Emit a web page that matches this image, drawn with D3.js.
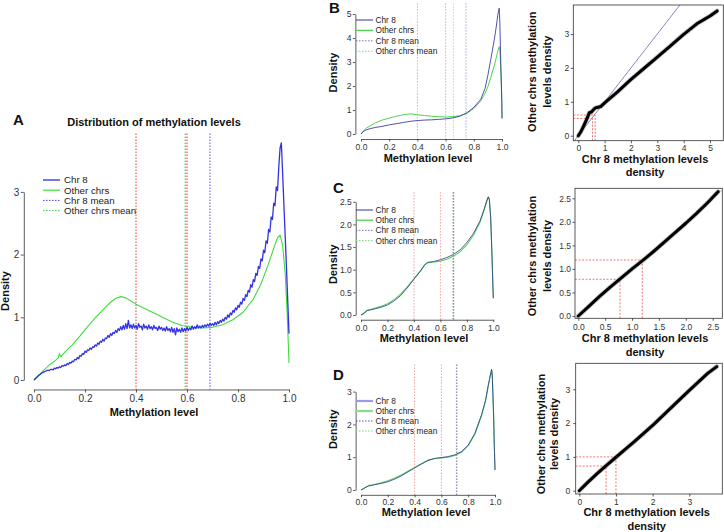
<!DOCTYPE html>
<html><head><meta charset="utf-8">
<script src="https://cdn.jsdelivr.net/npm/d3@7/dist/d3.min.js"></script>
<style>body{margin:0;background:#fff}svg{display:block}text{font-family:"Liberation Sans",Arial,Helvetica,sans-serif}</style>
</head><body><svg id="c" width="724" height="532"></svg>
<script>
// ---------------- DATA ----------------
const methylTicks = [0, 0.2, 0.4, 0.6, 0.8, 1.0];
const thresholds = [0.4, 0.6];
const legendLabels = ["Chr 8", "Other chrs", "Chr 8 mean", "Other chrs mean"];

// Panel A
const chr8StepA = 0.005;
const chr8DensityA = [
 0.00,0.02,0.04,0.06,0.08,0.09,0.11,0.12,0.13,0.14,
 0.15,0.16,0.15,0.17,0.17,0.16,0.19,0.18,0.20,0.19,
 0.21,0.20,0.23,0.22,0.24,0.23,0.26,0.25,0.28,0.27,
 0.30,0.29,0.33,0.32,0.36,0.34,0.39,0.38,0.42,0.41,
 0.46,0.44,0.48,0.47,0.51,0.49,0.53,0.52,0.56,0.54,
 0.59,0.57,0.62,0.60,0.65,0.62,0.67,0.66,0.71,0.68,
 0.74,0.71,0.76,0.74,0.79,0.76,0.82,0.79,0.85,0.80,
 0.87,0.81,0.90,0.82,0.95,0.83,0.88,0.82,0.89,0.83,
 0.87,0.81,0.90,0.84,0.86,0.80,0.89,0.83,0.86,0.81,
 0.88,0.82,0.85,0.80,0.87,0.82,0.84,0.79,0.86,0.81,
 0.84,0.79,0.83,0.78,0.85,0.79,0.82,0.77,0.84,0.76,
 0.82,0.72,0.83,0.77,0.81,0.76,0.83,0.77,0.82,0.78,
 0.84,0.79,0.83,0.80,0.86,0.81,0.85,0.82,0.88,0.83,
 0.86,0.83,0.87,0.84,0.88,0.85,0.89,0.86,0.90,0.87,
 0.90,0.87,0.92,0.88,0.93,0.90,0.95,0.92,0.97,0.94,
 1.00,0.97,1.04,1.00,1.07,1.04,1.11,1.08,1.15,1.12,
 1.19,1.16,1.24,1.21,1.30,1.27,1.36,1.33,1.43,1.40,
 1.52,1.48,1.60,1.57,1.70,1.67,1.81,1.78,1.93,1.90,
 2.07,2.03,2.22,2.18,2.40,2.36,2.60,2.56,2.82,2.78,
 3.08,3.02,3.40,3.70,3.78,3.30,2.80,2.30,1.80,1.27,
 0.74];
const otherXA = [0,0.02,0.04,0.06,0.08,0.095,0.1,0.105,0.12,0.15,0.18,0.21,0.24,0.27,0.3,0.32,0.34,0.36,0.38,0.4,0.43,0.46,0.5,0.54,0.58,0.62,0.66,0.7,0.74,0.78,0.82,0.86,0.89,0.92,0.94,0.955,0.965,0.975,0.985,0.993,1.0];
const otherDensityA = [0,0.08,0.16,0.24,0.30,0.35,0.42,0.37,0.44,0.56,0.70,0.85,0.99,1.12,1.24,1.30,1.33,1.31,1.26,1.21,1.15,1.09,1.01,0.93,0.87,0.84,0.83,0.84,0.88,0.96,1.08,1.29,1.53,1.86,2.10,2.27,2.31,2.15,1.70,1.05,0.27];
const meansA = [0.69, 0.593];   // chr8, other
const yTicksA = [0, 1, 2, 3];

// Panel B
const xB = [0,0.02,0.04,0.07,0.1,0.15,0.2,0.25,0.3,0.35,0.4,0.45,0.5,0.55,0.6,0.65,0.7,0.75,0.8,0.85,0.88,0.9,0.92,0.94,0.95,0.96,0.97,0.98,0.985,0.99,0.995,0.999,1.0];
const chr8DensityB = [0,0.12,0.18,0.23,0.27,0.32,0.38,0.43,0.48,0.53,0.56,0.58,0.59,0.61,0.63,0.67,0.74,0.88,1.11,1.45,1.9,2.45,3.1,3.75,4.1,4.5,4.95,5.24,4.6,3.3,2.2,1.3,0.65];
const otherDensityB = [0,0.15,0.25,0.36,0.46,0.58,0.66,0.74,0.8,0.84,0.8,0.77,0.74,0.72,0.71,0.72,0.76,0.86,1.06,1.38,1.7,1.98,2.35,2.75,2.95,3.2,3.45,3.64,3.5,2.9,2.1,1.3,0.65];
const meansB = [0.745, 0.655];
const yTicksB = [0, 1, 2, 3, 4, 5];
const qqXB = [0,0.1,0.2,0.3,0.38,0.42,0.5,0.58,0.65,0.75,0.85,1.0,1.2,1.5,2.0,2.5,3.0,3.5,4.0,4.5,5.0,5.27];
const qqYB = [0,0.12,0.28,0.45,0.6,0.68,0.7,0.77,0.82,0.84,0.86,0.97,1.1,1.3,1.66,1.99,2.32,2.65,2.99,3.3,3.53,3.68];
const qqRefB = [[0.54,0.51],[0.64,0.61]];
const qqTicksB_x = [0,1,2,3,4,5], qqTicksB_y = [0,1,2,3];

// Panel C
const xC = [0,0.02,0.04,0.05,0.07,0.1,0.15,0.2,0.25,0.3,0.35,0.4,0.45,0.48,0.5,0.55,0.6,0.65,0.7,0.75,0.8,0.85,0.9,0.93,0.95,0.962,0.97,0.98,0.99,1.0];
const chr8DensityC = [0,0.03,0.08,0.10,0.11,0.13,0.17,0.22,0.31,0.43,0.6,0.79,0.97,1.1,1.16,1.18,1.22,1.27,1.34,1.44,1.6,1.8,2.08,2.33,2.52,2.61,2.55,2.15,1.3,0.37];
const otherDensityC = [0,0.04,0.09,0.11,0.12,0.15,0.19,0.25,0.34,0.46,0.62,0.8,0.98,1.1,1.15,1.17,1.19,1.23,1.3,1.4,1.55,1.76,2.05,2.31,2.5,2.6,2.56,2.18,1.35,0.37];
const meansC = [0.697, 0.701];
const yTicksC = [0, 0.5, 1.0, 1.5, 2.0, 2.5];
const qqXC = [0,0.2,0.4,0.6,0.8,1.0,1.2,1.4,1.6,1.8,2.0,2.2,2.4,2.6];
const qqYC = [0,0.21,0.42,0.62,0.81,1.0,1.18,1.37,1.57,1.77,1.97,2.18,2.4,2.64];
const qqRefC = [[0.776,0.78],[1.19,1.19]];
const qqTicksC = [0, 0.5, 1.0, 1.5, 2.0, 2.5];

// Panel D
const xD = [0,0.02,0.04,0.06,0.08,0.1,0.15,0.2,0.25,0.3,0.35,0.4,0.45,0.5,0.55,0.6,0.65,0.7,0.75,0.8,0.85,0.9,0.93,0.95,0.965,0.975,0.98,0.99,0.995,1.0];
const chr8DensityD = [0,0.04,0.09,0.13,0.14,0.16,0.2,0.25,0.33,0.43,0.55,0.67,0.79,0.9,0.96,0.99,1.02,1.07,1.17,1.37,1.73,2.3,2.75,3.2,3.5,3.68,3.45,2.2,1.3,0.61];
const otherDensityD = [0,0.05,0.1,0.14,0.15,0.17,0.22,0.28,0.36,0.46,0.57,0.69,0.8,0.91,0.96,0.98,1.0,1.05,1.15,1.35,1.7,2.27,2.72,3.18,3.49,3.66,3.45,2.25,1.35,0.61];
const meansD = [0.712, 0.718];
const yTicksD = [0, 1, 2, 3];
const qqXD = [0,0.25,0.5,0.75,1.0,1.25,1.5,2.0,2.5,3.0,3.5,3.75];
const qqYD = [0,0.27,0.52,0.76,0.99,1.22,1.45,1.93,2.45,2.97,3.47,3.67];
const qqRefD = [[0.73,0.73],[1.0,1.0]];
const qqTicksD = [0, 1, 2, 3];

// ---------------- DRAWING ----------------
const svg = d3.select("#c");
const FONT = '"Liberation Sans",Arial,Helvetica,sans-serif';

function styleAxis(sel, fs, keepDomain) {
  sel.attr("font-family", null).attr("font-size", null);
  sel.selectAll("path.domain").attr("stroke", "#333").attr("stroke-width", 0.8);
  if (!keepDomain) sel.selectAll("path.domain").remove();
  sel.selectAll(".tick line").attr("stroke", "#333").attr("stroke-width", 0.8);
  sel.selectAll(".tick text").attr("fill", "#333").style("font-size", fs + "px").style("font-family", FONT);
}

function txt(x, y, s, o) {
  o = o || {};
  const t = svg.append("text").attr("x", x).attr("y", y).text(s)
    .attr("font-size", o.fs || 11).attr("font-weight", o.bold ? "bold" : null)
    .attr("text-anchor", o.anchor || "middle").attr("fill", o.fill || "#111");
  if (o.rot) t.attr("transform", `rotate(-90,${x},${y})`).attr("x", x).attr("y", y);
  return t;
}

function densityPanel(p) {
  const g = svg.append("g");
  const x = d3.scaleLinear().domain([0, 1]).range([p.x0, p.x1]);
  const y = d3.scaleLinear().domain([0, 1]).range([p.y0, p.y0 - p.k]);
  const top = y(p.ymax * 1.04), bot = y(-p.ymax * 0.04), left = x(-0.04);
  p.vlines.forEach(v => g.append("line")
    .attr("x1", x(v.v)).attr("x2", x(v.v)).attr("y1", top).attr("y2", bot)
    .attr("stroke", v.color).attr("stroke-width", v.w || 1).attr("stroke-dasharray", "1.5,1.5"));
  const line = d3.line().x(d => x(d[0])).y(d => y(d[1]));
  p.series.forEach(s => g.append("path").datum(d3.zip(s.xs, s.ys)).attr("d", line)
    .attr("fill", "none").attr("stroke", s.color).attr("stroke-width", s.w)
    .attr("stroke-opacity", s.op || 1).attr("stroke-linejoin", "round"));
  const xa = g.append("g").attr("transform", `translate(0,${bot})`)
    .call(d3.axisBottom(x).tickValues(methylTicks).tickFormat(d3.format(".1f"))
      .tickSize(p.ts).tickSizeOuter(0).tickPadding(p.tpx));
  styleAxis(xa, p.fs, true);
  const yMaxTick = d3.max(p.yTicks);
  const ya = d3.scaleLinear().domain([0, yMaxTick]).range([y(0), y(yMaxTick)]);
  const yg = g.append("g").attr("transform", `translate(${left},0)`)
    .call(d3.axisLeft(ya).tickValues(p.yTicks).tickFormat(p.yFmt)
      .tickSize(p.ts).tickSizeOuter(0).tickPadding(p.tpy));
  styleAxis(yg, p.fs, true);
  // legend
  const L = p.legend;
  L.items.forEach((it, i) => {
    const yy = L.y + i * L.dy;
    g.append("line").attr("x1", L.x1).attr("x2", L.x2).attr("y1", yy).attr("y2", yy)
      .attr("stroke", it.color).attr("stroke-width", it.w)
      .attr("stroke-dasharray", it.dash ? "1.5,1.5" : null);
    g.append("text").attr("x", L.tx).attr("y", yy).attr("dy", "0.35em")
      .attr("font-size", L.fs).attr("fill", "#222").text(legendLabels[i]);
  });
}

function qqPanel(p) {
  const g = svg.append("g");
  const x = d3.scaleLinear().domain([p.xc[0], p.xc[2]]).range([p.xc[1], p.xc[3]]);
  const y = d3.scaleLinear().domain([p.yc[0], p.yc[2]]).range([p.yc[1], p.yc[3]]);
  const b = p.box;
  const cid = "clip" + p.id;
  svg.append("clipPath").attr("id", cid).append("rect")
    .attr("x", b.l).attr("y", b.t).attr("width", b.r - b.l).attr("height", b.b - b.t);
  const inner = g.append("g").attr("clip-path", `url(#${cid})`);
  const ident = [-1, 10];
  inner.append("line").attr("x1", x(ident[0])).attr("y1", y(ident[0]))
    .attr("x2", x(ident[1])).attr("y2", y(ident[1]))
    .attr("stroke", p.diag).attr("stroke-width", 0.8);
  p.refs.forEach(r => {
    inner.append("line").attr("x1", b.l).attr("x2", x(r[0])).attr("y1", y(r[1])).attr("y2", y(r[1]))
      .attr("stroke", "#e8534f").attr("stroke-width", 0.8).attr("stroke-dasharray", "2,1.5");
    inner.append("line").attr("x1", x(r[0])).attr("x2", x(r[0])).attr("y1", b.b).attr("y2", y(r[1]))
      .attr("stroke", "#e8534f").attr("stroke-width", 0.8).attr("stroke-dasharray", "2,1.5");
  });
  const pts = d3.zip(p.qx, p.qy);
  const line = d3.line().x(d => x(d[0])).y(d => y(d[1]));
  inner.append("path").datum(pts).attr("d", line).attr("fill", "none")
    .attr("stroke", "#777").attr("stroke-width", p.lw + 1.6).attr("stroke-opacity", 0.45)
    .attr("stroke-linejoin", "round").attr("stroke-linecap", "round");
  inner.append("path").datum(pts).attr("d", line).attr("fill", "none")
    .attr("stroke", "#000").attr("stroke-width", p.lw)
    .attr("stroke-linejoin", "round").attr("stroke-linecap", "round");
  g.append("rect").attr("x", b.l).attr("y", b.t).attr("width", b.r - b.l).attr("height", b.b - b.t)
    .attr("fill", "none").attr("stroke", "#333").attr("stroke-width", 0.8);
  const fmt = p.fmt;
  const xa = g.append("g").attr("transform", `translate(0,${b.b})`)
    .call(d3.axisBottom(x).tickValues(p.xt).tickFormat(fmt).tickSize(2.5).tickSizeOuter(0).tickPadding(p.tpx));
  styleAxis(xa, 8.5, false);
  const ya = g.append("g").attr("transform", `translate(${b.l},0)`)
    .call(d3.axisLeft(y).tickValues(p.yt).tickFormat(fmt).tickSize(2.5).tickSizeOuter(0).tickPadding(p.tpy));
  styleAxis(ya, 8.5, false);
  // labels
  txt(p.xl.cx, p.xl.y1, "Chr 8 methylation levels", {bold: true, fs: 11});
  txt(p.xl.cx, p.xl.y2, "density", {bold: true, fs: 11});
  txt(p.yl.x1, p.yl.cy, "Other chrs methylation", {bold: true, fs: 11, rot: true});
  txt(p.yl.x2, p.yl.cy, "levels density", {bold: true, fs: 11, rot: true});
}

// colours
const BLUE_A = "#1c1ce0", GREEN_A = "#3fdc3f";
const NAVY = "#34349c", GREEN = "#4fd44f";
const legendA = [{color: BLUE_A, w: 1.2}, {color: GREEN_A, w: 1.2}, {color: "#4444ee", w: 1, dash: true}, {color: "#33cc33", w: 1, dash: true}];
const legendSmall = [{color: NAVY, w: 1}, {color: GREEN, w: 1.3}, {color: "#7070c8", w: 1, dash: true}, {color: "#7ad87a", w: 1, dash: true}];
const legendD = [{color: "#9a9ae6", w: 2.2}, {color: "#86e086", w: 2.2}, {color: "#5050b0", w: 1, dash: true}, {color: "#7ad87a", w: 1, dash: true}];

// Panel A
densityPanel({
  x0: 34, x1: 289, y0: 380, k: 62.7, ymax: 3.78, yTicks: yTicksA, yFmt: d3.format("d"),
  ts: 3, tpx: 2.5, tpy: 1.5, fs: 10,
  vlines: [
    {v: thresholds[0], color: "#e33a3a"}, {v: thresholds[1], color: "#e33a3a"},
    {v: meansA[1], color: "#33c433"}, {v: meansA[0], color: "#5555ee"}],
  series: [
    {xs: otherXA, ys: otherDensityA, color: GREEN_A, w: 1.1},
    {xs: chr8DensityA.map((d, i) => i * chr8StepA), ys: chr8DensityA, color: BLUE_A, w: 1.3, op: 0.9}],
  legend: {x1: 43, x2: 60, tx: 64, y: 180, dy: 10.2, fs: 9.7, items: legendA}
});
txt(13, 125, "A", {bold: true, fs: 15, anchor: "start"});
txt(154, 126, "Distribution of methylation levels", {bold: true, fs: 11});
txt(154, 416, "Methylation level", {bold: true, fs: 11});
txt(8.5, 291, "Density", {bold: true, fs: 11, rot: true});

// Panel B
densityPanel({
  x0: 361, x1: 502, y0: 134, k: 24, ymax: 5.24, yTicks: yTicksB, yFmt: d3.format("d"),
  ts: 2.5, tpx: 2.5, tpy: 1.5, fs: 8.5,
  vlines: [
    {v: thresholds[0], color: "#f2a3a3"}, {v: thresholds[1], color: "#f2a3a3"},
    {v: meansB[1], color: "#a6e3a6"}, {v: meansB[0], color: "#a9a9dc"}],
  series: [
    {xs: xB, ys: otherDensityB, color: GREEN, w: 1},
    {xs: xB, ys: chr8DensityB, color: NAVY, w: 1, op: 0.85}],
  legend: {x1: 356, x2: 373, tx: 375.5, y: 20, dy: 10.4, fs: 8.3, items: legendSmall}
});
txt(329, 12.7, "B", {bold: true, fs: 15, anchor: "start"});
txt(428, 162, "Methylation level", {bold: true, fs: 11});
txt(337, 72.5, "Density", {bold: true, fs: 11, rot: true});

qqPanel({
  id: "B", xc: [0, 578.3, 5, 710], yc: [0, 135.7, 3, 34],
  box: {l: 573.3, r: 723.3, t: 5, b: 140.7},
  qx: qqXB, qy: qqYB, refs: qqRefB, xt: qqTicksB_x, yt: qqTicksB_y, fmt: d3.format("d"),
  diag: "#6a6ab4", lw: 3, tpx: 1.5, tpy: 1.5,
  xl: {cx: 645, y1: 163, y2: 176.3}, yl: {x1: 536.3, x2: 551.3, cy: 71.7}
});

// Panel C
densityPanel({
  x0: 361, x1: 493.3, y0: 315, k: 45.3, ymax: 2.61, yTicks: yTicksC, yFmt: d3.format(".1f"),
  ts: 2.5, tpx: 2.5, tpy: 1.5, fs: 8.5,
  vlines: [
    {v: thresholds[0], color: "#f2a3a3"}, {v: thresholds[1], color: "#f2a3a3"},
    {v: meansC[1], color: "#8fd08f"}, {v: meansC[0], color: "#6a6a9a"}],
  series: [
    {xs: xC, ys: otherDensityC, color: GREEN, w: 1.1},
    {xs: xC, ys: chr8DensityC, color: NAVY, w: 1, op: 0.8}],
  legend: {x1: 356, x2: 373, tx: 375.5, y: 210, dy: 10.2, fs: 8.3, items: legendSmall}
});
txt(333, 193, "C", {bold: true, fs: 15, anchor: "start"});
txt(424, 342, "Methylation level", {bold: true, fs: 11});
txt(337, 264.2, "Density", {bold: true, fs: 11, rot: true});

qqPanel({
  id: "C", xc: [0, 578.3, 2.5, 712.7], yc: [0, 316, 2.5, 198.3],
  box: {l: 575, r: 722.3, t: 188.3, b: 318.3},
  qx: qqXC, qy: qqYC, refs: qqRefC, xt: qqTicksC, yt: qqTicksC, fmt: d3.format(".1f"),
  diag: "#bdbdbd", lw: 3, tpx: 3.5, tpy: 1.5,
  xl: {cx: 645, y1: 342.3, y2: 355.6}, yl: {x1: 536.3, x2: 551.3, cy: 256}
});

// Panel D
densityPanel({
  x0: 361, x1: 495, y0: 490, k: 32.8, ymax: 3.68, yTicks: yTicksD, yFmt: d3.format("d"),
  ts: 2.5, tpx: 2, tpy: 1.5, fs: 8.5,
  vlines: [
    {v: thresholds[0], color: "#f2a3a3"}, {v: thresholds[1], color: "#f2a3a3"},
    {v: meansD[1], color: "#a0dca0"}, {v: meansD[0], color: "#8a8ab8"}],
  series: [
    {xs: xD, ys: otherDensityD, color: GREEN, w: 1.1},
    {xs: xD, ys: chr8DensityD, color: NAVY, w: 1, op: 0.8}],
  legend: {x1: 356, x2: 373, tx: 375.5, y: 401, dy: 10, fs: 8.3, items: legendD}
});
txt(333, 380, "D", {bold: true, fs: 15, anchor: "start"});
txt(426, 516, "Methylation level", {bold: true, fs: 11});
txt(337, 429.2, "Density", {bold: true, fs: 11, rot: true});

qqPanel({
  id: "D", xc: [0, 579.3, 3, 689.3], yc: [0, 490.7, 3, 389.3],
  box: {l: 575.7, r: 722.3, t: 363.3, b: 494},
  qx: qqXD, qy: qqYD, refs: qqRefD, xt: qqTicksD, yt: qqTicksD, fmt: d3.format("d"),
  diag: "#bdbdbd", lw: 3, tpx: 2, tpy: 3,
  xl: {cx: 646.7, y1: 516.3, y2: 529.7}, yl: {x1: 544.7, x2: 558, cy: 434}
});
</script></body></html>
